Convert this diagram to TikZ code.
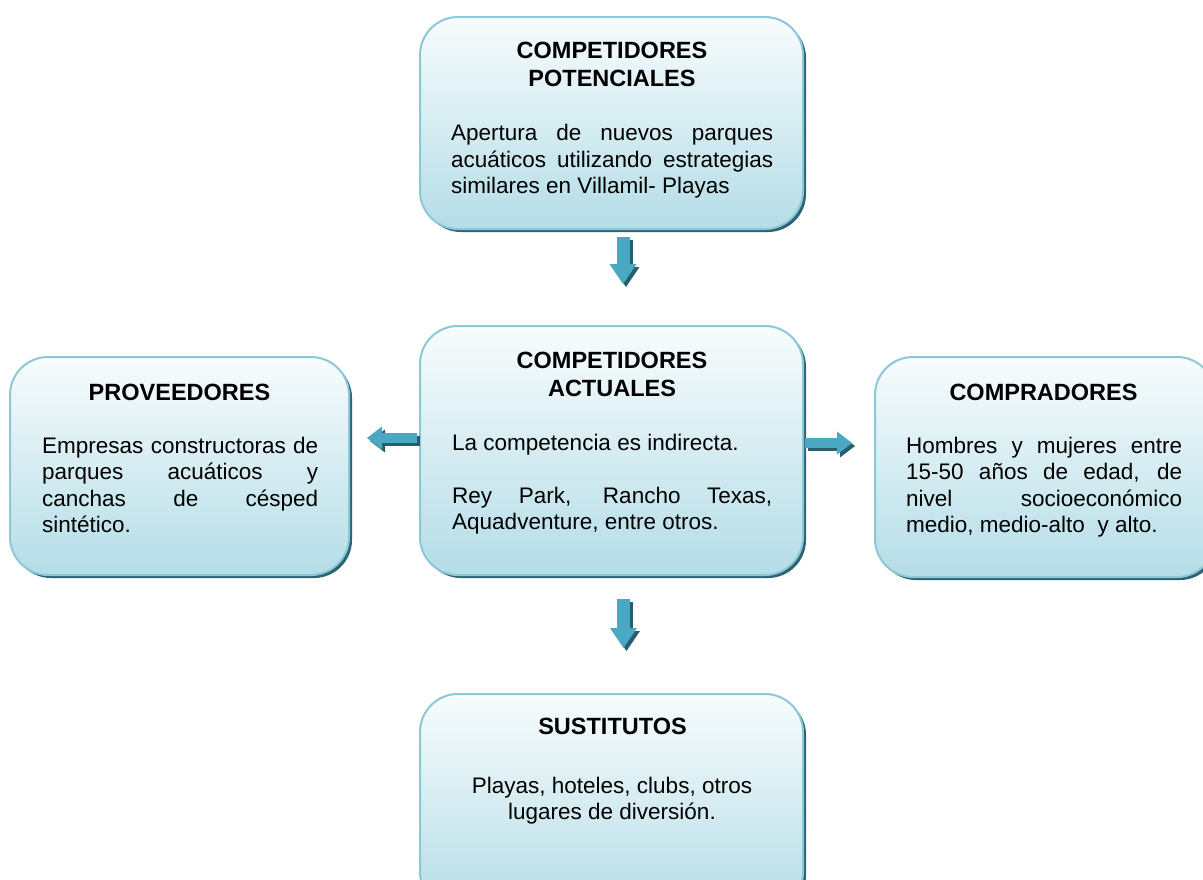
\documentclass[tikz,border=0pt]{standalone}
\usepackage{fontspec}
\setmainfont{Liberation Sans}
\usetikzlibrary{shadows, arrows.meta, calc}

\definecolor{boxborder}{RGB}{140,200,215}
\definecolor{boxshadow}{RGB}{45,100,115}
\definecolor{boxtop}{RGB}{248,252,253}
\definecolor{boxbottom}{RGB}{180,221,231}
\definecolor{arrowblue}{RGB}{75,168,194}
\definecolor{arrowshadow}{RGB}{40,95,110}

% text lines: justified, left, centred
\newlength{\tw}
\newcommand{\jl}[1]{\hbox to \tw{\spaceskip=.278em plus 1fil\relax #1}}
\newcommand{\lastl}[1]{\hbox to \tw{#1\hfil}}
\newcommand{\midl}[1]{\hbox to \tw{\hfil #1\hfil}}

\begin{document}
\begin{tikzpicture}[x=1pt, y=-1pt,
  tile/.style={draw=boxborder, line width=2pt, rounded corners=38pt,
    top color=boxtop, bottom color=boxbottom, inner sep=0pt,
    general shadow={fill=boxshadow, shadow xshift=3pt, shadow yshift=-3pt}},
  title/.style={font=\fontsize{23.5}{28}\selectfont\bfseries, inner sep=0pt, anchor=base},
  body/.style={font=\fontsize{22.5}{26.5}\selectfont, inner sep=0pt, anchor=base west},
  downarrow/.style={line width=13pt, draw=arrowblue, -{Triangle[width=27pt, length=20pt, line width=0pt]}},
  sidearrow/.style={line width=10pt, draw=arrowblue, -{Triangle[width=23pt, length=15pt, line width=0pt]}},
  arrowback/.style={draw=arrowshadow, transform canvas={xshift=3pt, yshift=-3pt}}]
\useasboundingbox[fill=white] (0,0) rectangle (1203,879);
\clip (0,0) rectangle (1203,879);

% boxes
\node[tile, minimum width=383pt, minimum height=212pt] (potenciales) at (611.5,123) {};
\node[tile, minimum width=383pt, minimum height=249pt] (actuales) at (611.5,450.5) {};
\node[tile, minimum width=339pt, minimum height=218pt] (proveedores) at (179.5,466) {};
\node[tile, minimum width=340pt, minimum height=220pt] (compradores) at (1045,467) {};
\node[tile, minimum width=383pt, minimum height=216pt] (sustitutos) at (611.5,802) {};

% texts
\node[title] (potencialesTitle) at (612,58.3) {\vtop{\tw=360pt \midl{COMPETIDORES}\midl{POTENCIALES}}};
\node[body] (potencialesText) at (451,140.5) {\vtop{\tw=322pt
  \jl{Apertura de nuevos parques}
  \jl{acuáticos utilizando estrategias}
  \lastl{similares en Villamil- Playas}}};

\node[title] (actualesTitle) at (612,368.3) {\vtop{\tw=360pt \midl{COMPETIDORES}\midl{ACTUALES}}};
\node[body] (actualesText) at (452,450) {\vtop{\tw=320pt
  \lastl{La competencia es indirecta.}
  \vskip\baselineskip
  \jl{Rey Park, Rancho Texas,}
  \lastl{Aquadventure, entre otros.}}};

\node[title] (proveedoresTitle) at (179.5,400) {\vtop{\tw=300pt \midl{PROVEEDORES}}};
\node[body] (proveedoresText) at (42,453) {\vtop{\tw=276pt
  \jl{Empresas constructoras de}
  \jl{parques acuáticos y}
  \jl{canchas de césped}
  \lastl{sintético.}}};

\node[title] (compradoresTitle) at (1043.5,400.5) {\vtop{\tw=300pt \midl{COMPRADORES}}};
\node[body] (compradoresText) at (906,453) {\vtop{\tw=276pt
  \jl{Hombres y mujeres entre}
  \jl{15-50 años de edad, de}
  \jl{nivel socioeconómico}
  \lastl{medio, medio-alto~ y alto.}}};

\node[title] (sustitutosTitle) at (612.5,734) {\vtop{\tw=340pt \midl{SUSTITUTOS}}};
\node[title, font=\fontsize{22.5}{26.5}\selectfont] (sustitutosText) at (612,793) {\vtop{\tw=340pt
  \midl{Playas, hoteles, clubs, otros}
  \midl{lugares de diversión.}}};

% block arrows
\draw[downarrow, arrowback] ($(potenciales.south)+(11.5,7)$) -- ($(actuales.north)+(11.5,-41)$);
\draw[downarrow] ($(potenciales.south)+(11.5,7)$) -- ($(actuales.north)+(11.5,-41)$);
\draw[downarrow, arrowback] ($(actuales.south)+(12,23)$) -- ($(sustitutos.north)+(12,-45)$);
\draw[downarrow] ($(actuales.south)+(12,23)$) -- ($(sustitutos.north)+(12,-45)$);
\draw[sidearrow, arrowback] ($(actuales.west)+(-2,-12.5)$) -- ($(proveedores.east)+(17,-28)$);
\draw[sidearrow] ($(actuales.west)+(-2,-12.5)$) -- ($(proveedores.east)+(17,-28)$);
\draw[sidearrow, arrowback] ($(actuales.east)+(1,-7.5)$) -- ($(compradores.west)+(-22,-24)$);
\draw[sidearrow] ($(actuales.east)+(1,-7.5)$) -- ($(compradores.west)+(-22,-24)$);
\end{tikzpicture}
\end{document}
